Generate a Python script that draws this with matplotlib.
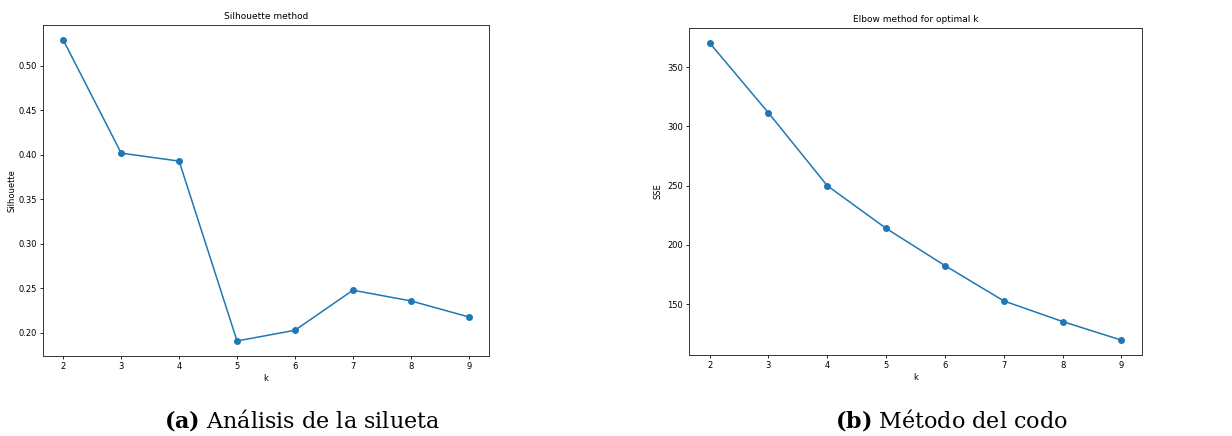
import matplotlib.pyplot as plt

plt.rcParams['mathtext.fontset'] = 'dejavuserif'

# datos
k = [2, 3, 4, 5, 6, 7, 8, 9]
silhouette = [0.529, 0.402, 0.393, 0.191, 0.203, 0.248, 0.236, 0.218]
sse = [370.5, 311.5, 250.0, 214.0, 182.6, 152.8, 135.4, 119.7]

fig = plt.figure(figsize=(12.32, 4.36), dpi=100)

# panel izquierdo: silueta
ax1 = fig.add_axes([43 / 1232, 1 - 356 / 436, 446 / 1232, 331 / 436])
ax1.plot(k, silhouette, marker='o', color='#1f77b4', markersize=4, linewidth=1.1)
ax1.set_title('Silhouette method', fontsize=6.5, pad=4)
ax1.set_xlabel('k', fontsize=6, labelpad=2)
ax1.set_ylabel('Silhouette', fontsize=6, labelpad=1.5)
ax1.set_yticks([0.20, 0.25, 0.30, 0.35, 0.40, 0.45, 0.50])
ax1.tick_params(labelsize=6, length=2.5, width=0.6, pad=2)

# panel derecho: codo
ax2 = fig.add_axes([689 / 1232, 1 - 355 / 436, 453 / 1232, 327 / 436])
ax2.plot(k, sse, marker='o', color='#1f77b4', markersize=4, linewidth=1.1)
ax2.set_title('Elbow method for optimal k', fontsize=6.5, pad=4)
ax2.set_xlabel('k', fontsize=6, labelpad=2)
ax2.set_ylabel('SSE', fontsize=6, labelpad=3)
ax2.set_yticks([150, 200, 250, 300, 350])
ax2.tick_params(labelsize=6, length=2.5, width=0.6, pad=2)

for ax in (ax1, ax2):
    for s in ax.spines.values():
        s.set_linewidth(0.7)
        s.set_color('#333333')

# subtítulos
fig.text(302 / 1232, 1 - 420 / 436, r'$\mathbf{(a)}$ Análisis de la silueta',
         ha='center', va='center', fontsize=16, family='DejaVu Serif')
fig.text(951 / 1232, 1 - 420 / 436, r'$\mathbf{(b)}$ Método del codo',
         ha='center', va='center', fontsize=16, family='DejaVu Serif')

fig.savefig('out.png', dpi=100)
